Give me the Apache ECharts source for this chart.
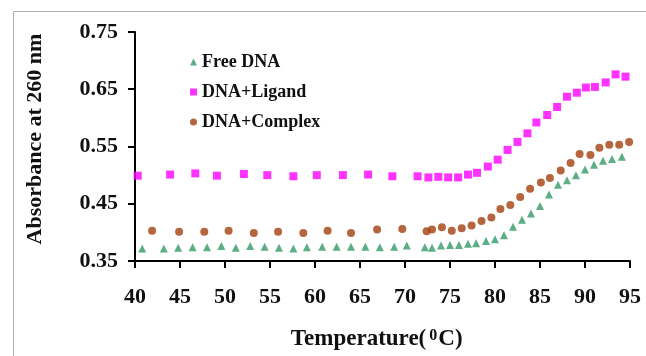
<!DOCTYPE html>
<html>
<head>
<meta charset="utf-8">
<script src="https://cdn.jsdelivr.net/npm/echarts@6/dist/echarts.min.js"></script>
<style>
  html, body { margin: 0; padding: 0; background: #fff; }
  #chart { width: 646px; height: 356px; }
</style>
</head>
<body>
<div id="chart"></div>
<script>
// UV melting curves: absorbance at 260 nm versus temperature
const freeTemp = [40.8, 43.2, 44.8, 46.4, 48.0, 49.6, 51.2, 52.8, 54.4, 56.0, 57.6, 59.1, 60.8, 62.4, 64.0, 65.6, 67.2, 68.8, 70.2, 72.2, 73.0, 74.0, 75.0, 76.0, 77.0, 77.9, 79.0, 80.0, 81.0, 82.0, 83.0, 84.0, 85.0, 86.0, 87.0, 88.0, 89.0, 90.0, 91.0, 92.0, 93.0, 94.1];
const freeAbs = [0.372, 0.372, 0.373, 0.374, 0.374, 0.376, 0.373, 0.376, 0.375, 0.373, 0.372, 0.374, 0.375, 0.375, 0.375, 0.375, 0.374, 0.375, 0.377, 0.374, 0.373, 0.377, 0.378, 0.378, 0.380, 0.381, 0.385, 0.388, 0.395, 0.410, 0.422, 0.433, 0.446, 0.466, 0.483, 0.491, 0.500, 0.510, 0.518, 0.525, 0.528, 0.532];

const ligTemp = [40.3, 43.9, 46.7, 49.1, 52.1, 54.7, 57.6, 60.2, 63.1, 65.9, 68.6, 71.4, 72.6, 73.7, 74.8, 75.9, 77.0, 78.0, 79.2, 80.3, 81.4, 82.5, 83.6, 84.6, 85.8, 86.9, 88.0, 89.1, 90.1, 91.1, 92.3, 93.4, 94.5];
const ligAbs = [0.499, 0.501, 0.503, 0.499, 0.502, 0.500, 0.498, 0.500, 0.500, 0.501, 0.498, 0.498, 0.496, 0.497, 0.496, 0.496, 0.501, 0.504, 0.515, 0.527, 0.544, 0.558, 0.573, 0.592, 0.605, 0.619, 0.637, 0.644, 0.653, 0.654, 0.662, 0.676, 0.672];

const cpxTemp = [41.9, 44.9, 47.7, 50.4, 53.2, 55.9, 58.7, 61.4, 64.0, 66.9, 69.7, 72.4, 73.0, 74.1, 75.2, 76.3, 77.4, 78.5, 79.6, 80.6, 81.7, 82.8, 83.9, 85.1, 86.1, 87.3, 88.4, 89.4, 90.6, 91.6, 92.7, 93.8, 94.9];
const cpxAbs = [0.403, 0.401, 0.401, 0.403, 0.399, 0.401, 0.399, 0.403, 0.399, 0.405, 0.406, 0.402, 0.405, 0.409, 0.403, 0.407, 0.412, 0.420, 0.426, 0.441, 0.448, 0.462, 0.476, 0.487, 0.495, 0.508, 0.521, 0.537, 0.535, 0.548, 0.553, 0.553, 0.558];

const pairs = (xs, ys) => xs.map((x, i) => [x, ys[i]]);
const FONT = 'Liberation Serif';

const chart = echarts.init(document.getElementById('chart'));
chart.setOption({
  animation: false,
  graphic: [
    {
      type: 'rect',
      silent: true,
      shape: { x: 13.5, y: 11.5, width: 700, height: 400 },
      style: { fill: null, stroke: '#b0b0b0', lineWidth: 1 }
    },
    {
      // y-axis title
      type: 'text',
      silent: true,
      x: 35.5, y: 139,
      rotation: Math.PI / 2,
      style: {
        text: 'Absorbance at 260 nm',
        fontFamily: FONT, fontWeight: 'bold', fontSize: 22,
        fill: '#111', align: 'center', verticalAlign: 'middle'
      }
    },
    {
      // x-axis title with superscript degree
      type: 'text',
      silent: true,
      x: 376.7, y: 339,
      style: {
        text: 'Temperature({sup|0}C)',
        fontFamily: FONT, fontWeight: 'bold', fontSize: 23, lineHeight: 23,
        fill: '#111', align: 'center', verticalAlign: 'middle',
        rich: {
          sup: { fontFamily: FONT, fontWeight: 'bold', fontSize: 16, lineHeight: 16, verticalAlign: 'top', fill: '#111', padding: [0, 1, 0, 3] }
        }
      }
    }
  ],
  grid: { left: 135, right: 16, top: 32, bottom: 95 },
  legend: {
    orient: 'vertical',
    left: 185,
    top: 48,
    itemWidth: 7,
    itemHeight: 7,
    itemGap: 12,
    textStyle: { fontFamily: FONT, fontWeight: 'bold', fontSize: 18, color: '#111' },
    data: ['Free DNA', 'DNA+Ligand', 'DNA+Complex']
  },
  xAxis: {
    type: 'value',
    min: 40, max: 95, interval: 5,
    splitLine: { show: false },
    axisLine: { show: true, onZero: false, lineStyle: { color: '#000', width: 2 } },
    axisTick: { show: true, length: 7, lineStyle: { color: '#000', width: 2 } },
    axisLabel: { margin: 25, fontFamily: FONT, fontWeight: 'bold', fontSize: 22, color: '#111' }
  },
  yAxis: {
    type: 'value',
    min: 0.35, max: 0.75, interval: 0.1,
    splitLine: { show: false },
    axisLine: { show: true, onZero: false, lineStyle: { color: '#000', width: 2 } },
    axisTick: { show: true, length: 7, lineStyle: { color: '#000', width: 2 } },
    axisLabel: {
      margin: 17, fontFamily: FONT, fontWeight: 'bold', fontSize: 22, color: '#111',
      formatter: v => v.toFixed(2)
    }
  },
  series: [
    {
      name: 'Free DNA', type: 'scatter', symbol: 'triangle', symbolSize: 8,
      itemStyle: { color: '#339a66' },
      data: pairs(freeTemp, freeAbs)
    },
    {
      name: 'DNA+Ligand', type: 'scatter', symbol: 'rect', symbolSize: 8,
      itemStyle: { color: '#ff00ff' },
      data: pairs(ligTemp, ligAbs)
    },
    {
      name: 'DNA+Complex', type: 'scatter', symbol: 'circle', symbolSize: 8,
      itemStyle: { color: '#a3400e' },
      data: pairs(cpxTemp, cpxAbs)
    }
  ]
});
</script>
</body>
</html>
